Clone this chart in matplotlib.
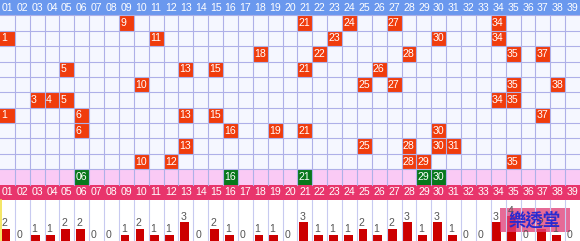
import numpy as np
import matplotlib.pyplot as plt
from matplotlib.patches import Rectangle

plt.rcParams['font.family'] = ['Liberation Sans', 'DejaVu Sans']

# ten past draws, top to bottom
draws = [
    [9, 21, 24, 27, 34],
    [1, 11, 23, 30, 34],
    [18, 22, 28, 35, 37],
    [5, 13, 15, 21, 26],
    [10, 25, 27, 35, 38],
    [3, 4, 5, 34, 35],
    [1, 6, 13, 15, 37],
    [6, 16, 19, 21, 30],
    [13, 25, 28, 30, 31],
    [10, 12, 28, 29, 35],
]
# latest draw (green row)
latest = [6, 16, 21, 29, 30]
numbers = list(range(1, 40))
labels = ['%02d' % n for n in numbers]
counts = [2, 0, 1, 1, 2, 2, 0, 0, 1, 2, 1, 1, 3, 0, 2, 1, 0, 1, 1, 0,
          3, 1, 1, 1, 2, 1, 2, 3, 1, 3, 1, 0, 0, 3, 4, 0, 2, 1, 0]

W, H = 580, 241
ncol = len(numbers)
RH = 200 / 13.0          # row height in px
px = ncol / float(W)     # one pixel in column units
unit = 6.2               # bar px per hit

fig = plt.figure(figsize=(W / 100, H / 100), dpi=100)
ax = fig.add_axes([0, 0, 1, 1])
ax.set_xlim(0, ncol)
ax.set_ylim(H, 0)
ax.axis('off')

x = np.arange(ncol)
fs = 7.6

# header row
ax.bar(x, RH, bottom=0, width=1, align='edge', color='#6A98EE', linewidth=0)
# grid area
ax.bar(x, RH * 10, bottom=RH, width=1, align='edge', color='#F5F7FF', linewidth=0)
# pink row for latest draw
ax.bar(x, RH, bottom=RH * 11, width=1, align='edge', color='#FACAF5', linewidth=0)
# red header row
ax.bar(x, RH, bottom=RH * 12, width=1, align='edge', color='#E8356C', linewidth=0)

# grid lines
for k in range(1, ncol):
    ax.plot([k, k], [RH, RH * 12], color='#AEB0E8', lw=0.8)
    ax.plot([k, k], [RH * 13, H], color='#C8CAF0', lw=0.8)
for k in range(1, 12):
    ax.plot([0, ncol], [RH * k, RH * k], color='#AEB0E8', lw=0.8)
ax.plot([0.5 * px, 0.5 * px], [RH * 13, H], color='#F2E24A', lw=1.2)

for i, lab in enumerate(labels):
    ax.text(i + 1.6 * px, RH * 0.5, lab, color='white', fontsize=fs, ha='left', va='center')
    ax.text(i + 1.6 * px, RH * 12.5, lab, color='white', fontsize=fs, ha='left', va='center')

# drawn numbers
for r, row in enumerate(draws):
    top = RH * (r + 1)
    xs = [n - 1 for n in row]
    ax.bar(xs, RH, bottom=top, width=1, align='edge', color='#F03C0C', linewidth=0)
    for n in row:
        ax.text(n - 1 + 1.2 * px, top + RH / 2, str(n), color='white', fontsize=fs,
                ha='left', va='center')

xs = [n - 1 for n in latest]
ax.bar(xs, RH, bottom=RH * 11, width=1, align='edge', color='#08781C', linewidth=0)
for n in latest:
    ax.text(n - 1 + 1.2 * px, RH * 11.5, '%02d' % n, color='white', fontsize=fs,
            ha='left', va='center')

# frequency bars
hts = [-c * unit for c in counts]
ax.bar(x + 1.7 * px, hts, bottom=H, width=8.8 * px, align='edge', color='#CC0000', linewidth=0)
for i, c in enumerate(counts):
    ax.text(i + 1.8 * px, H - c * unit - 0.5, str(c), color='#555555', fontsize=fs,
            ha='left', va='bottom')

# watermark
ax.add_patch(Rectangle((500 * px, 208), 70 * px, 24, color='#E0407A', alpha=0.78, lw=0))
ax.text(535 * px, 220.5, '樂透堂', color='#2A2ACF', fontsize=12.5, fontweight='bold',
        ha='center', va='center', family=['Noto Sans CJK TC', 'DejaVu Sans'])

fig.savefig('out.png', dpi=100)
